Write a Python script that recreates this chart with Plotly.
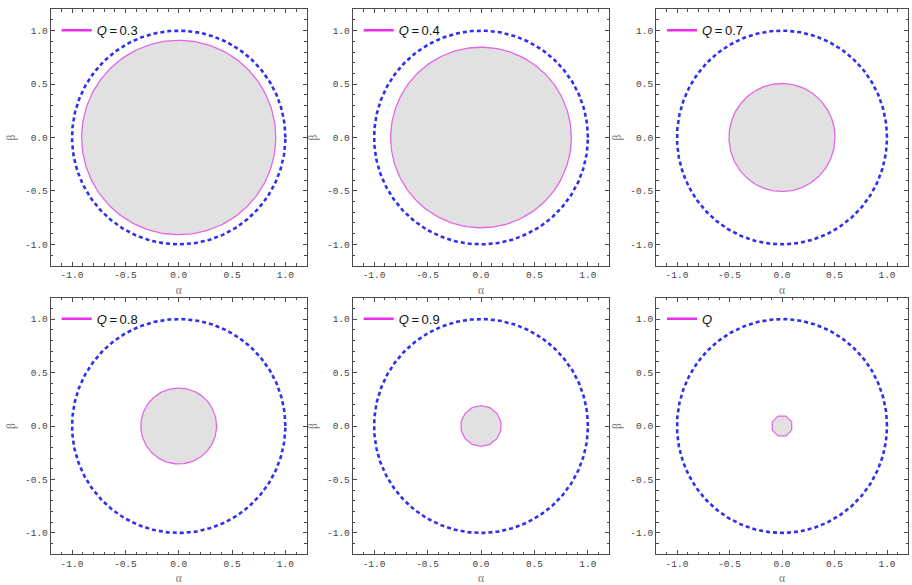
import numpy as np
import plotly.graph_objects as go

# ---- data ----
q_labels = ["<i>Q</i>\u2009=\u20090.3", "<i>Q</i>\u2009=\u20090.4", "<i>Q</i>\u2009=\u20090.7",
            "<i>Q</i>\u2009=\u20090.8", "<i>Q</i>\u2009=\u20090.9", "<i>Q</i>"]
shadow_radius = [0.91, 0.845, 0.505, 0.355, 0.19, 0.10]
shadow_sides = [240, 240, 240, 240, 14, 8]      # sampling of the contour
reference_radius = [1.0, 1.0, 1.0, 1.0, 1.0, 1.0]  # dashed unit circle
tick_vals = [-1.0, -0.5, 0.0, 0.5, 1.0]
tick_text = ["-1.0", "-0.5", "0.0", "0.5", "1.0"]
axis_range = [-1.2, 1.2]

# ---- layout (pixel boxes of the panels) ----
W, H = 912, 585
col_px = [(50.7, 306.7), (352.7, 609.3), (656.0, 908.0)]
row_px = [(9.3, 265.7), (297.7, 554.3)]

MAGENTA = "#e466e4"
MAGENTA_LEG = "#ec2cec"
BLUE = "#2f2ff0"
FILL = "#e1e1e1"
FRAME = "#4a4a4a"

fig = go.Figure()
layout = dict(width=W, height=H, margin=dict(l=0, r=0, t=0, b=0),
              paper_bgcolor="white", plot_bgcolor="white", showlegend=True)

tick_font = dict(family="Liberation Mono, Courier New, monospace", size=9.5, color="#444")
title_font = dict(family="Liberation Serif, serif", size=11.5, color="#777")

for i in range(6):
    r, c = divmod(i, 3)
    k = "" if i == 0 else str(i + 1)
    xa, ya = "x" + k, "y" + k
    x0, x1 = col_px[c]
    y0, y1 = row_px[r]

    common = dict(range=axis_range, tickvals=tick_vals, ticktext=tick_text,
                  ticks="inside", ticklen=4, tickwidth=1, tickcolor=FRAME,
                  minor=dict(dtick=0.1, tick0=0, ticks="inside", ticklen=2.5,
                             tickcolor=FRAME, tickwidth=1),
                  showline=True, linecolor=FRAME, linewidth=1, mirror="allticks",
                  showgrid=False, zeroline=False, tickfont=tick_font,
                  automargin=False, fixedrange=True)
    layout["xaxis" + k] = dict(common, domain=[x0 / W, x1 / W], anchor=ya,
                               title=dict(text="α", font=title_font, standoff=5))
    layout["yaxis" + k] = dict(common, domain=[1 - y1 / H, 1 - y0 / H], anchor=xa,
                               title=dict(text="β", font=title_font, standoff=6))

    legname = "legend" + k
    layout[legname] = dict(x=(x0 + 6) / W, y=1 - (y0 + 21) / H,
                           xanchor="left", yanchor="middle",
                           bgcolor="rgba(0,0,0,0)", borderwidth=0,
                           font=dict(family="Liberation Sans, Arial, sans-serif",
                                     size=13, color="#111"),
                           itemwidth=30)

    # shadow region
    n = shadow_sides[i]
    t = np.linspace(0, 2 * np.pi, n + 1) + (np.pi / n if n < 50 else 0)
    rs = shadow_radius[i]
    fig.add_trace(go.Scatter(x=rs * np.cos(t), y=rs * np.sin(t), xaxis=xa, yaxis=ya,
                             mode="lines", fill="toself", fillcolor=FILL,
                             line=dict(color=MAGENTA, width=1.3),
                             showlegend=False, hoverinfo="skip"))
    # dashed reference circle
    tt = np.linspace(0, 2 * np.pi, 361)
    rr = reference_radius[i]
    fig.add_trace(go.Scatter(x=rr * np.cos(tt), y=rr * np.sin(tt), xaxis=xa, yaxis=ya,
                             mode="lines", line=dict(color=BLUE, width=2.6, dash="4px,3px"),
                             showlegend=False, hoverinfo="skip"))
    # legend entry
    fig.add_trace(go.Scatter(x=[None], y=[None], xaxis=xa, yaxis=ya, mode="lines",
                             line=dict(color=MAGENTA_LEG, width=2.5),
                             name=q_labels[i], legend=legname, showlegend=True))

fig.update_layout(**layout)
fig.write_html("out.html", config={"displayModeBar": False},
               post_script="document.body.style.margin='0';")
